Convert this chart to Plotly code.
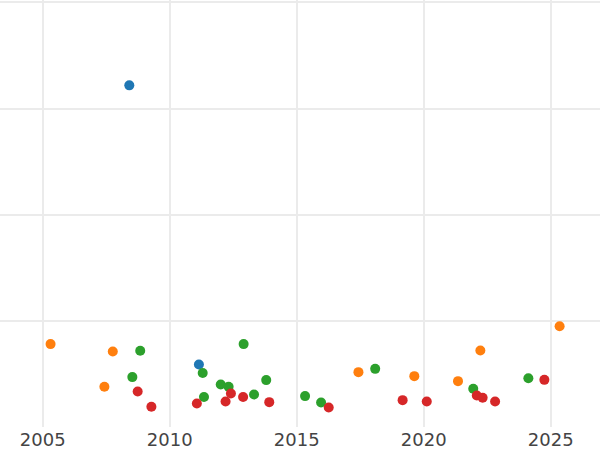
import plotly.graph_objects as go

# points per series (year, value)
blue_x = [2008.41, 2011.15]
blue_y = [321.9, 58.9]

orange_x = [2005.31, 2007.76, 2007.43, 2017.43, 2019.63, 2021.35, 2022.23, 2025.35]
orange_y = [78.1, 71.1, 37.9, 51.7, 47.9, 43.2, 72.0, 95.0]

green_x = [2008.84, 2008.53, 2011.30, 2011.35, 2012.01, 2012.32, 2012.91,
           2013.32, 2013.80, 2015.33, 2015.96, 2018.09, 2021.95, 2024.12]
green_y = [71.8, 47.0, 50.8, 28.2, 40.0, 37.9, 78.1,
           30.6, 44.2, 29.1, 23.1, 54.8, 36.0, 46.0]

red_x = [2008.74, 2009.28, 2011.07, 2012.20, 2012.41, 2012.89, 2013.92,
         2016.26, 2019.17, 2020.12, 2022.09, 2022.32, 2022.81, 2024.75]
red_y = [33.4, 19.0, 22.1, 24.0, 31.5, 28.2, 23.4,
         18.4, 25.3, 24.0, 29.7, 27.5, 24.0, 44.4]

series = [
    (blue_x, blue_y, '#1f77b4'),
    (orange_x, orange_y, '#ff7f0e'),
    (green_x, green_y, '#2ca02c'),
    (red_x, red_y, '#d62728'),
]

fig = go.Figure()
for xs, ys, col in series:
    fig.add_trace(go.Scatter(
        x=xs, y=ys, mode='markers',
        marker=dict(color=col, size=10),
        showlegend=False
    ))

fig.update_layout(
    width=600, height=450,
    margin=dict(l=0, r=0, t=0, b=23),
    plot_bgcolor='white', paper_bgcolor='white',
    font=dict(family='DejaVu Sans', size=18, color='#444'),
    xaxis=dict(
        range=[2003.32, 2026.94],
        tickvals=[2005, 2010, 2015, 2020, 2025],
        showgrid=True, gridcolor='#ebebeb', gridwidth=2,
        zeroline=False, showline=False, ticks=''
    ),
    yaxis=dict(
        range=[0, 402.3],
        tickvals=[100, 200, 300, 400],
        showticklabels=False,
        showgrid=True, gridcolor='#ebebeb', gridwidth=2,
        zeroline=False, showline=False, ticks=''
    )
)

# drop the page's default 8px body margin so the chart sits at the corner
fig.write_html("out.html", config={'displayModeBar': False},
               post_script="document.body.style.margin='0';")
